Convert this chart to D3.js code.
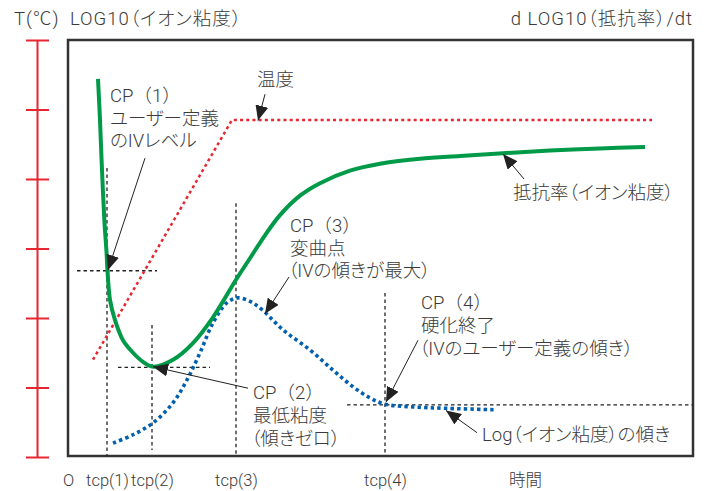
<!DOCTYPE html>
<html>
<head>
<meta charset="utf-8">
<script src="https://cdn.jsdelivr.net/npm/d3@7"></script>
<style>
  html, body { margin: 0; padding: 0; background: #fff; }
  svg text {
    font-family: Roboto, "Noto Sans CJK JP", sans-serif;
    font-weight: 300;
    font-feature-settings: "palt";
    fill: #3a3a3a;
  }
  svg text.full { font-feature-settings: normal; }
</style>
</head>
<body>
<svg id="chart" width="711" height="491"></svg>
<script>
// ---- data (time in arbitrary units, level on the 0–60 scale) ----
const levelTicks = [0, 10, 20, 30, 40, 50, 60];

const timeTicks = [0, 7.8, 16.8, 33.6, 63.4, 91.4];
const timeTickLabels = ["O", "tcp(1)", "tcp(2)", "tcp(3)", "tcp(4)", "時間"];

// resistivity (ion viscosity), log scale
const resistTime  = [6, 6.4, 6.8, 7.3, 7.7, 7.9, 8.4, 9.4, 11, 13, 15, 17, 21, 25, 29, 33.6, 36.4, 39.4, 42.4, 46.4, 50.4, 56.4, 62.4, 70.4, 78.4, 87, 96.4, 106.4, 115.4];
const resistValue = [54.4, 48.5, 41.3, 33.7, 29.5, 26.8, 22.6, 19.7, 16.8, 15.0, 13.7, 13.0, 14.0, 16.4, 20.1, 25.5, 28.6, 31.9, 34.8, 37.6, 39.4, 41.2, 42.2, 42.9, 43.3, 43.7, 44.1, 44.4, 44.6];

// slope of log(ion viscosity)
const slopeTime  = [9, 13, 17, 21, 23.8, 26.4, 29, 31.8, 34, 36.4, 38.8, 43, 48.4, 53, 57, 60.4, 63.4, 69, 75.8, 85.4];
const slopeValue = [2.0, 3.2, 4.9, 7.8, 11.1, 15.0, 19.3, 22.2, 22.9, 22.4, 21.2, 18.3, 15.4, 12.5, 10.1, 8.5, 7.6, 7.2, 7.0, 6.8];

// temperature profile: ramp then hold
const tempTime  = [5, 32.8, 116.8];
const tempValue = [14, 48.5, 48.5];

// critical point guides
const guideVertical = [
  { t: 7.8,  from: 0.1, to: 41.6 },
  { t: 16.8, from: 1.0, to: 19.0 },
  { t: 33.6, from: 0.1, to: 36.5 },
  { t: 63.4, from: 0.6, to: 23.6 }
];
const guideHorizontal = [
  { v: 26.8, from: 1.8,  to: 17.8 },
  { v: 12.9, from: 10,   to: 28.4 },
  { v: 7.5,  from: 55.8, to: 125 }
];

// callout arrows: [t0, v0] -> [t1, v1]
const arrows = [
  { from: [39.4, 52.2], to: [38.0, 48.4] },
  { from: [15.4, 43.0], to: [8.0, 26.9] },
  { from: [91.2, 40.0], to: [87.0, 43.6] },
  { from: [36.0, 9.9],  to: [17.0, 13.0] },
  { from: [44.2, 25.9], to: [39.4, 20.6] },
  { from: [70.0, 16.8], to: [63.6, 7.9] },
  { from: [81.8, 3.5],  to: [75.6, 6.7] }
];

// callout texts
const callouts = [
  { t: 37.8, v: 53.4, lines: ["温度"] },
  { t: 8.4,  v: 51.1, lines: ["CP（1）", "ユーザー定義", "のIVレベル"] },
  { t: 89.0, v: 37.1, lines: ["抵抗率（イオン粘度）"] },
  { t: 44.4, v: 32.4, lines: ["CP（3）", "変曲点", "（IVの傾きが最大）"] },
  { t: 70.6, v: 21.3, lines: ["CP（4）", "硬化終了", "（IVのユーザー定義の傾き）"] },
  { t: 37.0, v: 8.3,  lines: ["CP（2）", "最低粘度", "（傾きゼロ）"] },
  { t: 82.8, v: 2.3,  lines: ["Log（イオン粘度）の傾き"] }
];

const leftTitle  = "T(℃)\u2002LOG10（イオン粘度）";
const rightTitle = "d LOG10（抵抗率）/dt";

// ---- layout ----
const svg = d3.select("#chart");
const plot = { left: 68, top: 40, right: 693, bottom: 456 };
const FONT = 18.5;

const x = d3.scaleLinear().domain([0, 125]).range([plot.left, plot.right]);
const y = d3.scaleLinear().domain([0, 60]).range([457, 40]);

const RED = "#e8262f", GREEN = "#009a48", BLUE = "#0060b0", INK = "#222";

// arrowhead
svg.append("defs").append("marker")
  .attr("id", "head")
  .attr("markerUnits", "userSpaceOnUse")
  .attr("viewBox", "0 0 15 13")
  .attr("refX", 15).attr("refY", 6.5)
  .attr("markerWidth", 15).attr("markerHeight", 13)
  .attr("orient", "auto")
  .append("path").attr("d", "M0,0 L15,6.5 L0,13 Z").attr("fill", INK);

// left red scale
const axisG = svg.append("g").attr("transform", "translate(49,0)")
  .call(d3.axisLeft(y).tickValues(levelTicks).tickSize(23).tickFormat(""));
axisG.select(".domain").remove();
axisG.selectAll(".tick line").attr("stroke", RED).attr("stroke-width", 2);
svg.append("line")
  .attr("x1", 37.5).attr("x2", 37.5)
  .attr("y1", y(60)).attr("y2", y(0))
  .attr("stroke", RED).attr("stroke-width", 2);

// frame
svg.append("rect")
  .attr("x", plot.left).attr("y", plot.top)
  .attr("width", plot.right - plot.left).attr("height", plot.bottom - plot.top)
  .attr("fill", "none").attr("stroke", "#333").attr("stroke-width", 2.5);

// bottom labels
const xAxisG = svg.append("g").attr("transform", `translate(0,${plot.bottom})`)
  .call(d3.axisBottom(x).tickValues(timeTicks).tickSize(0)
    .tickFormat((d, i) => timeTickLabels[i]));
xAxisG.select(".domain").remove();
xAxisG.selectAll("text")
  .attr("y", 30).attr("dy", 0)
  .attr("font-size", 16.5)
  .style("font-family", "Roboto, 'Noto Sans CJK JP', sans-serif")
  .style("font-weight", 300)
  .attr("fill", "#3a3a3a");

// guides
const guides = svg.append("g").attr("stroke", INK).attr("stroke-width", 1.3)
  .attr("stroke-dasharray", "3.5 3");
guides.selectAll("line.v").data(guideVertical).join("line")
  .attr("x1", d => x(d.t)).attr("x2", d => x(d.t))
  .attr("y1", d => y(d.to)).attr("y2", d => y(d.from));
guides.selectAll("line.h").data(guideHorizontal).join("line")
  .attr("y1", d => y(d.v)).attr("y2", d => y(d.v))
  .attr("x1", d => x(d.from)).attr("x2", d => x(d.to));

// series
const zipped = (ts, vs) => ts.map((t, i) => [t, vs[i]]);
const line = d3.line().x(d => x(d[0])).y(d => y(d[1]));
const smooth = d3.line().x(d => x(d[0])).y(d => y(d[1])).curve(d3.curveCatmullRom.alpha(0.5));

svg.append("path").datum(zipped(tempTime, tempValue))
  .attr("d", line).attr("fill", "none")
  .attr("stroke", RED).attr("stroke-width", 2.5).attr("stroke-dasharray", "3 3.2");

svg.append("path").datum(zipped(slopeTime, slopeValue))
  .attr("d", smooth).attr("fill", "none")
  .attr("stroke", BLUE).attr("stroke-width", 3.6).attr("stroke-dasharray", "3.4 3.2");

svg.append("path").datum(zipped(resistTime, resistValue))
  .attr("d", smooth).attr("fill", "none")
  .attr("stroke", GREEN).attr("stroke-width", 4).attr("stroke-linecap", "butt");

// arrows
svg.append("g").selectAll("line").data(arrows).join("line")
  .attr("x1", d => x(d.from[0])).attr("y1", d => y(d.from[1]))
  .attr("x2", d => x(d.to[0])).attr("y2", d => y(d.to[1]))
  .attr("stroke", INK).attr("stroke-width", 1)
  .attr("marker-end", "url(#head)");

// callout texts, one text per row; the "CP（n）" headings keep full-width brackets
const rows = callouts.flatMap(d => d.lines.map((l, i) => ({ l, t: d.t, v: d.v, i })));
svg.append("g").selectAll("text").data(rows).join("text")
  .attr("class", d => d.l.startsWith("CP") ? "full" : null)
  .attr("font-size", FONT)
  .attr("x", d => x(d.t) - (d.l.startsWith("（") ? 2 : 0))
  .attr("y", d => y(d.v) + d.i * 22.8)
  .text(d => d.l);

// titles
svg.append("text").attr("x", 14).attr("y", 25).attr("font-size", FONT)
  .attr("letter-spacing", 1).text(leftTitle);
svg.append("text").attr("x", 693).attr("y", 25).attr("font-size", FONT)
  .attr("letter-spacing", 1).attr("text-anchor", "end").text(rightTitle);
</script>
</body>
</html>
